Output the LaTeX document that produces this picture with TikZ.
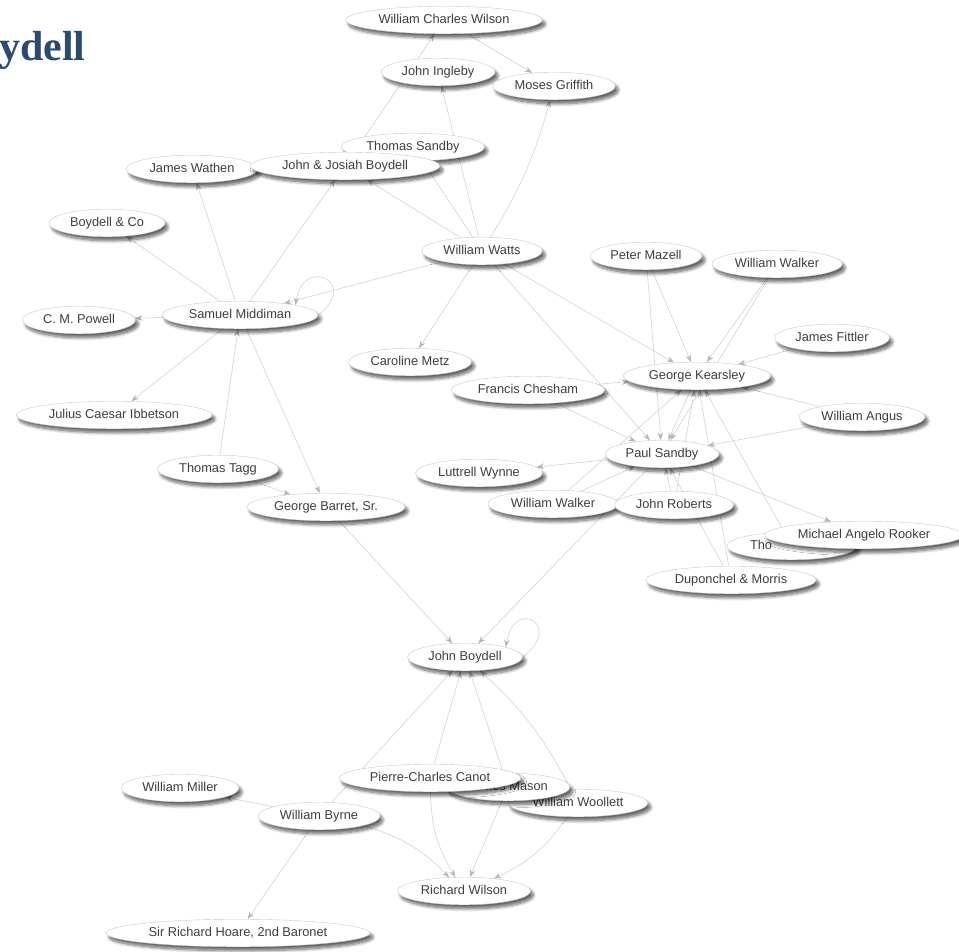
\documentclass[tikz,border=0pt]{standalone}
\usepackage{fontspec}
\setmainfont{Liberation Sans}
\newfontfamily\titlefont{Liberation Serif}
\usepackage{tikz}
\usepackage{xcolor}
\usetikzlibrary{arrows.meta, positioning, shapes.geometric, backgrounds, shadows.blur}
\definecolor{nodeline}{RGB}{200, 200, 200}
\definecolor{edgeline}{RGB}{215, 215, 215}
\definecolor{tipgray}{RGB}{182, 182, 182}
\definecolor{nametext}{RGB}{62, 62, 62}
\definecolor{titleblue}{RGB}{44, 74, 110}

\begin{document}
\begin{tikzpicture}[x=1pt, y=1pt,
    person/.style={ellipse, draw=nodeline, line width=0.4pt, fill=white, text=nametext,
      font=\fontsize{12.8}{15}\selectfont, inner xsep=4pt, inner ysep=3.5pt,
      text height=9.5pt, text depth=3pt,
      blur shadow={shadow xshift=3pt, shadow yshift=-4pt, shadow blur radius=3pt,
        shadow blur steps=8, shadow opacity=60}},
    link/.style={draw=edgeline, line width=0.7pt, -{Stealth[length=7.5pt, width=5.5pt, color=tipgray]}}]
  \useasboundingbox (0,0) rectangle (959,-951);
  \node[anchor=base west, inner sep=0pt, text=titleblue,
        font=\titlefont\bfseries\fontsize{42}{44}\selectfont] (ttl) at (-1,-60) {ydell};

  \node[person] (wcw) at (444,-20) {William Charles Wilson};
  \node[person] (ing) at (438,-72) {John Ingleby};
  \node[person] (mgr) at (554,-86) {Moses Griffith};
  \node[person] (jwa) at (192,-169) {James Wathen};
  \node[person] (tsa) at (413,-147) {Thomas Sandby};
  \node[person] (jjb) at (345,-166) {John \& Josiah Boydell};
  \node[person] (bco) at (107,-223) {Boydell \& Co};
  \node[person] (wwa) at (482,-251) {William Watts};
  \node[person] (smi) at (240,-315) {Samuel Middiman};
  \node[person] (cmp) at (79,-320) {C. M. Powell};
  \node[person] (jci) at (114,-415) {Julius Caesar Ibbetson};
  \node[person] (tta) at (218,-469) {Thomas Tagg};
  \node[person] (gba) at (326,-507) {George Barret, Sr.};
  \node[person] (cme) at (410,-362) {Caroline Metz};
  \node[person] (pma) at (646,-256) {Peter Mazell};
  \node[person] (wwk) at (777,-264) {William Walker};
  \node[person] (jfi) at (832,-338) {James Fittler};
  \node[person] (fch) at (528,-390) {Francis Chesham};
  \node[person] (gke) at (697,-376) {George Kearsley};
  \node[person] (wan) at (862,-417) {William Angus};
  \node[person] (psa) at (662,-454) {Paul Sandby};
  \node[person] (lwy) at (479,-473) {Luttrell Wynne};
  \node[person] (wwl) at (553,-504) {William Walker};
  \node[person] (jro) at (674,-505) {John Roberts};
  \node[person, text width=84pt, align=left] (tho) at (792,-546) {Tho};
  \node[person] (mar) at (864,-535) {Michael Angelo Rooker};
  \node[person] (dmo) at (731,-580) {Duponchel \& Morris};
  \node[person] (jbo) at (465,-657) {John Boydell};
  \node[person] (wwo) at (578,-803) {William Woollett};
  \node[person] (jma) at (508,-787) {James Mason};
  \node[person] (pcc) at (430,-778) {Pierre-Charles Canot};
  \node[person] (wmi) at (180,-788) {William Miller};
  \node[person] (wby) at (319,-816) {William Byrne};
  \node[person] (rwi) at (464,-891) {Richard Wilson};
  \node[person] (srh) at (238,-933) {Sir Richard Hoare, 2nd Baronet};

  \begin{scope}[on background layer]
    \draw[link] (jjb) -- (wcw); \draw[link] (wcw) -- (mgr);
    \draw[link] (wwa) -- (ing); \draw[link] (wwa) to[bend right=8] (mgr);
    \draw[link] (wwa) -- (tsa); \draw[link] (wwa) -- (jjb);
    \draw[link] (wwa) -- (smi); \draw[link] (wwa) -- (cme);
    \draw[link] (wwa) -- (gke); \draw[link] (wwa) -- (psa);
    \draw[link] (smi) -- (jwa); \draw[link] (smi) -- (jjb);
    \draw[link] (smi) -- (bco); \draw[link] (smi) -- (cmp);
    \draw[link] (smi) -- (jci); \draw[link] (smi) -- (gba);
    \draw[link] (tta) -- (smi); \draw[link] (tta) -- (gba);
    \draw[link] (smi.east) .. controls +(42,32) and +(8,50) .. (smi.north east);
    \draw[link] (gba) -- (jbo);
    \draw[link] (fch) -- (gke); \draw[link] (fch) -- (psa);
    \draw[link] (pma) -- (gke); \draw[link] (pma) -- (psa);
    \draw[link] (wwk) -- (gke); \draw[link] (wwk) -- (psa);
    \draw[link] (jfi) -- (gke);
    \draw[link] (wan) -- (gke); \draw[link] (wan) -- (psa);
    \draw[link] (gke) -- (psa); \draw[link] (psa) -- (lwy);
    \draw[link] (wwl) -- (gke); \draw[link] (wwl) -- (psa);
    \draw[link] (jro) -- (gke); \draw[link] (jro) -- (psa);
    \draw[link] (dmo) -- (gke); \draw[link] (dmo) -- (psa);
    \draw[link] (tho) -- (gke); \draw[link] (psa) -- (mar);
    \draw[link] (psa) -- (jbo);
    \draw[link] (jbo.east) .. controls +(42,32) and +(8,50) .. (jbo.north east);
    \draw[link] (wby) -- (jbo); \draw[link] (pcc) -- (jbo);
    \draw[link] (jma) -- (jbo); \draw[link] (wwo) to[bend right=10] (jbo);
    \draw[link] (wby) to[bend left=15] (rwi); \draw[link] (pcc) to[bend right=15] (rwi);
    \draw[link] (jma) -- (rwi); \draw[link] (wwo) to[bend left=15] (rwi);
    \draw[link] (wby) -- (srh); \draw[link] (wby) -- (wmi);
  \end{scope}
\end{tikzpicture}
\end{document}
